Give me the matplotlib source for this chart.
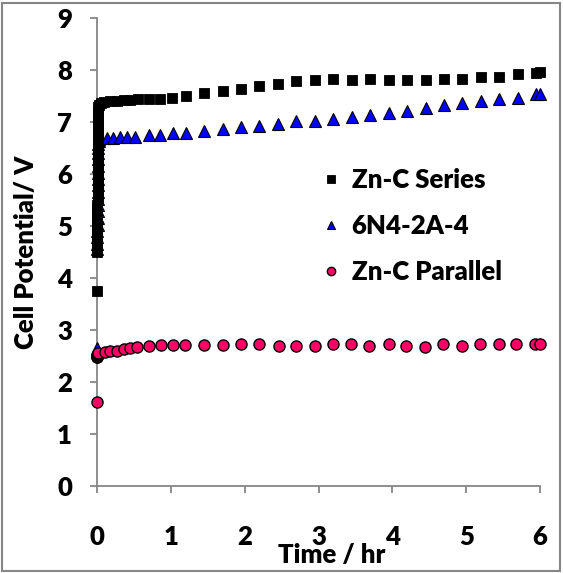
import matplotlib
matplotlib.use('Agg')
import matplotlib.pyplot as plt
from matplotlib.patches import Rectangle

# Zn-C series stack
series_t = [0.0,
            0.002, 0.002, 0.003, 0.003, 0.004, 0.004, 0.005, 0.005, 0.006, 0.006,
            0.007, 0.007, 0.008, 0.008, 0.009, 0.009, 0.010, 0.010, 0.011, 0.011,
            0.012, 0.012, 0.013, 0.014, 0.015, 0.016, 0.017, 0.018, 0.020, 0.025,
            0.05, 0.10, 0.18, 0.27, 0.36, 0.45, 0.56, 0.70, 0.85, 1.01,
            1.20, 1.45, 1.70, 1.95, 2.20, 2.45, 2.70, 2.95, 3.20, 3.45,
            3.70, 3.95, 4.20, 4.45, 4.70, 4.95, 5.20, 5.45, 5.70, 5.95, 6.00]
series_v = [3.75,
            4.50, 4.60, 4.70, 4.80, 4.90, 5.00, 5.10, 5.20, 5.30, 5.40,
            5.50, 5.60, 5.70, 5.80, 5.90, 6.00, 6.10, 6.20, 6.30, 6.40,
            6.50, 6.60, 6.70, 6.80, 6.90, 7.00, 7.10, 7.20, 7.28, 7.33,
            7.36, 7.38, 7.40, 7.41, 7.42, 7.43, 7.44, 7.45, 7.45, 7.46,
            7.50, 7.56, 7.60, 7.63, 7.69, 7.74, 7.79, 7.81, 7.82, 7.81,
            7.82, 7.81, 7.81, 7.81, 7.82, 7.82, 7.86, 7.86, 7.92, 7.94, 7.96]

# 6N4-2A-4
cell_t = [0.0,
          0.003, 0.004, 0.005, 0.006, 0.007, 0.008, 0.009, 0.010, 0.011, 0.012,
          0.013, 0.014, 0.015, 0.016, 0.017, 0.018, 0.019, 0.020, 0.022, 0.025,
          0.04, 0.13, 0.22, 0.31, 0.40, 0.51, 0.70, 0.85, 1.03, 1.20,
          1.45, 1.70, 1.95, 2.20, 2.45, 2.70, 2.95, 3.20, 3.45, 3.70,
          3.95, 4.20, 4.45, 4.70, 4.95, 5.20, 5.45, 5.70, 5.95, 6.00]
cell_v = [2.65,
          4.55, 4.65, 4.78, 4.90, 5.02, 5.15, 5.28, 5.40, 5.52, 5.65,
          5.78, 5.90, 6.02, 6.15, 6.28, 6.40, 6.50, 6.58, 6.64, 6.68,
          6.70, 6.70, 6.70, 6.71, 6.71, 6.72, 6.75, 6.75, 6.79, 6.79,
          6.83, 6.86, 6.90, 6.92, 6.97, 7.02, 7.02, 7.05, 7.09, 7.13,
          7.17, 7.21, 7.27, 7.33, 7.36, 7.40, 7.44, 7.47, 7.54, 7.54]

# Zn-C parallel
par_t = [0.0,
         0.002, 0.004, 0.006, 0.008, 0.010, 0.013, 0.016, 0.020,
         0.108, 0.18, 0.27, 0.36, 0.45, 0.54, 0.70, 0.87, 1.03, 1.19,
         1.45, 1.70, 1.95, 2.20, 2.46, 2.70, 2.95, 3.20, 3.44, 3.69,
         3.95, 4.19, 4.44, 4.69, 4.94, 5.19, 5.44, 5.68, 5.93, 6.00]
par_v = [1.62,
         2.48, 2.49, 2.50, 2.51, 2.52, 2.53, 2.54, 2.56,
         2.58, 2.60, 2.60, 2.63, 2.66, 2.68, 2.69, 2.71, 2.71, 2.71,
         2.71, 2.71, 2.74, 2.73, 2.70, 2.70, 2.70, 2.73, 2.73, 2.70,
         2.73, 2.70, 2.67, 2.73, 2.70, 2.73, 2.73, 2.73, 2.73, 2.73]

labels = ['Zn-C Series', '6N4-2A-4', 'Zn-C Parallel']

plt.rcParams['font.family'] = ['Lato', 'DejaVu Sans']
plt.rcParams['font.weight'] = 'heavy'
FS = 18.5

grey = '#868686'
fig = plt.figure(figsize=(5.63, 5.73), dpi=100)
ax = fig.add_axes([97/563, 1 - 486/573, 443/563, 468/573])

ax.plot(series_t, series_v, ls='none', marker='s', ms=7.2, mfc='black', mec='black',
        mew=0.6, clip_on=False, zorder=4, label=labels[0])
ax.plot(cell_t, cell_v, ls='none', marker='^', ms=8, mfc='#0000FF', mec='black',
        mew=0.8, clip_on=False, zorder=3, label=labels[1])
ax.plot(par_t, par_v, ls='none', marker='o', ms=8, mfc='#FF0066', mec='black',
        mew=1.0, clip_on=False, zorder=3, label=labels[2])

ax.set_xlim(0, 6)
ax.set_ylim(0, 9)
ax.set_xticks(range(0, 7))
ax.set_yticks(range(0, 10))
for s in ['top', 'right']:
    ax.spines[s].set_visible(False)
for s in ['left', 'bottom']:
    ax.spines[s].set_color(grey)
    ax.spines[s].set_linewidth(1.3)
ax.tick_params(axis='both', colors=grey, length=5, width=1.3, labelcolor='black',
               labelsize=FS)
ax.tick_params(axis='x', pad=23)
ax.tick_params(axis='y', pad=13)

ax.set_ylabel('Cell Potential/ V', fontsize=FS, fontweight='heavy', labelpad=14)
fig.text(332/563, 1 - 555/573, 'Time / hr', fontsize=FS, fontweight='heavy',
         ha='center', va='center')

ax.legend(loc='upper left', bbox_to_anchor=(322/563, 1 - 168/573),
          bbox_transform=fig.transFigure, frameon=False, markerscale=0.75,
          handlelength=0.7, handletextpad=0.45, labelspacing=0.85,
          borderaxespad=0, borderpad=0, prop={'size': FS, 'weight': 'heavy'})

fig.patches.append(Rectangle((2/563, 2/573), 558/563, 568/573, transform=fig.transFigure,
                             fill=False, edgecolor=grey, linewidth=1.5))

fig.savefig('out.png', dpi=100)
